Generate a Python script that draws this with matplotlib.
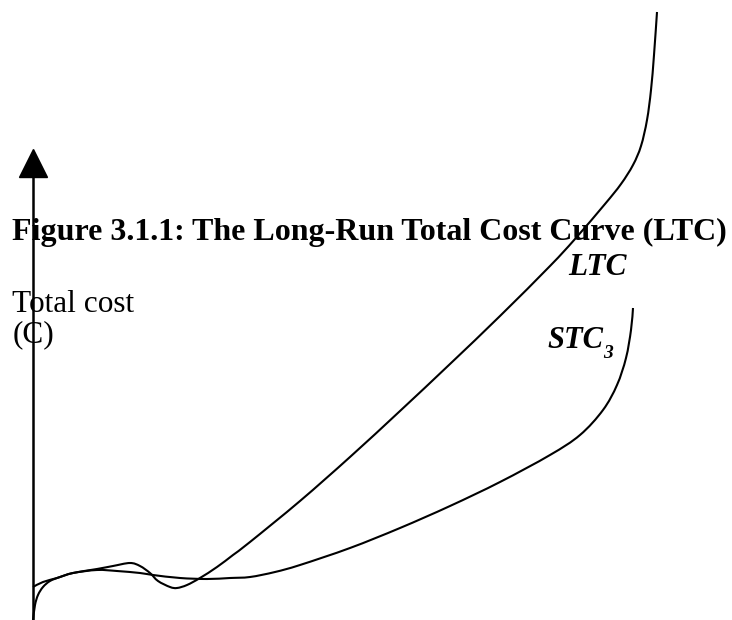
import matplotlib
matplotlib.use("Agg")
import matplotlib.pyplot as plt
import numpy as np
from matplotlib.path import Path
from matplotlib.patches import PathPatch

# quantity (x) and total cost (y); origin at the axis foot
ltc_q = [0, 2, 5, 10, 17, 27, 40, 64, 80, 97, 107, 117, 125, 137, 144, 154,
         167, 184, 200, 217, 267, 317, 367, 417, 467, 517, 542, 572, 588, 600,
         608, 614, 618, 621, 624]
ltc_c = [0, 15, 25, 33, 39, 43, 47, 51, 54, 57, 54, 47, 39, 33, 32, 35,
         42, 53, 65, 78, 119, 163, 209, 256, 304, 354, 381, 416, 436, 455,
         474, 500, 530, 565, 608]

stc3_q = [0, 10, 24, 40, 64, 84, 107, 120, 147, 174, 197, 217, 242, 267, 317,
          367, 417, 467, 517, 547, 570, 584, 593, 598, 600]
stc3_c = [33, 38, 42, 47, 50, 49, 47, 45, 42, 41, 42, 43, 48, 55, 72,
          92, 114, 138, 165, 185, 210, 235, 262, 290, 312]

axis_top = 457

title = "Figure 3.1.1: The Long-Run Total Cost Curve (LTC)"
serif = ["Liberation Serif", "DejaVu Serif"]


def smooth_path(xs, ys):
    # Catmull-Rom through the read points, drawn as cubic Bezier segments
    p = np.column_stack([xs, ys]).astype(float)
    ext = np.vstack([p[0], p, p[-1]])
    verts = [p[0]]
    codes = [Path.MOVETO]
    for i in range(1, len(ext) - 2):
        c1 = ext[i] + (ext[i + 1] - ext[i - 1]) / 6
        c2 = ext[i + 1] - (ext[i + 2] - ext[i]) / 6
        verts += [c1, c2, ext[i + 1]]
        codes += [Path.CURVE4] * 3
    return Path(verts, codes)


fig = plt.figure(figsize=(7.32, 6.2), dpi=100)
ax = fig.add_axes([0, 0, 1, 1])
ax.set_xlim(-33, 699)
ax.set_ylim(0, 620)
ax.axis("off")

# vertical cost axis with arrow head
ax.plot([0, 0], [0, axis_top], color="black", lw=1.8, solid_capstyle="butt")
ax.plot(0, axis_top, marker="^", markersize=20, color="black")

for xs, ys in [(ltc_q, ltc_c), (stc3_q, stc3_c)]:
    ax.add_patch(PathPatch(smooth_path(xs, ys), fill=False, edgecolor="black",
                           lw=1.5, capstyle="butt"))

ax.text(-21, 380, title, family=serif, fontsize=23, fontweight="bold",
        va="baseline", ha="left")
ax.text(535, 345, "LTC", family=serif, fontsize=22.5, fontweight="bold",
        fontstyle="italic", va="baseline", ha="left")
ax.text(-21, 308, "Total cost", family=serif, fontsize=22.5,
        va="baseline", ha="left")
ax.text(-20, 278, "(C)", family=serif, fontsize=22.5,
        va="baseline", ha="left")
t = ax.text(514, 272, "STC", family=serif, fontsize=22, fontweight="bold",
            fontstyle="italic", va="baseline", ha="left")
ax.annotate("3", xy=(1, 0), xycoords=t, xytext=(0, -2),
            textcoords="offset points", family=serif, fontsize=14,
            fontweight="bold", fontstyle="italic", va="baseline", ha="left")

fig.savefig("out.png", dpi=100)
